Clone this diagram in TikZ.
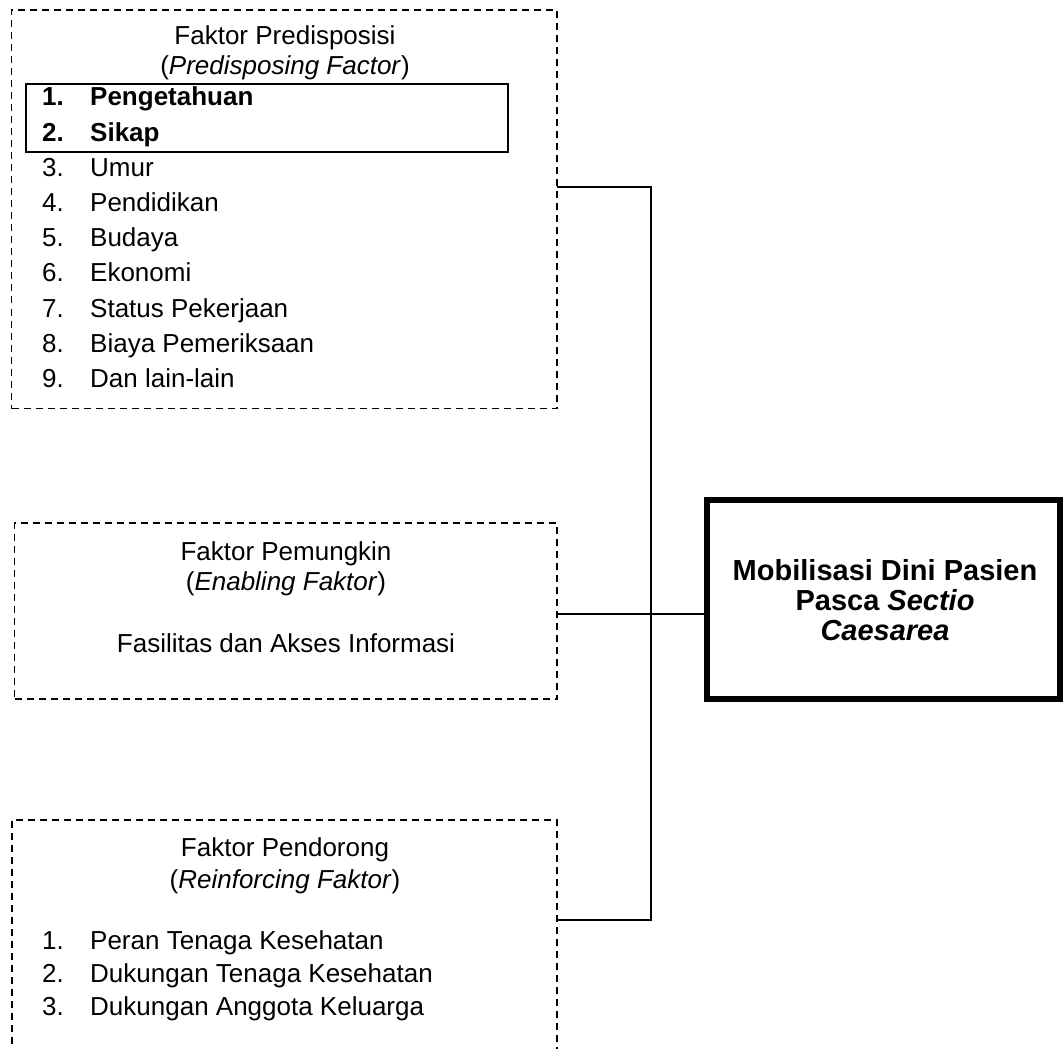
\documentclass[tikz,border=0pt]{standalone}
\usepackage{fontspec}
\setmainfont{Liberation Sans}
\begin{document}
\begin{tikzpicture}[x=1pt,y=-1pt,
  dbox/.style={draw, dash pattern=on 7pt off 5pt, line width=1.4pt},
  ibox/.style={draw, line width=1.8pt},
  mbox/.style={draw, line width=6pt},
  conn/.style={line width=1.7pt},
  area/.style={inner sep=0pt, outer sep=0pt, anchor=north west},
  txt/.style={font=\fontsize{26}{30}\selectfont, inner sep=0pt, anchor=base},
  num/.style={font=\fontsize{26}{30}\selectfont, inner sep=0pt, anchor=base west},
  btxt/.style={font=\fontsize{29}{30}\bfseries\selectfont, inner sep=0pt, anchor=base}
]
\path[use as bounding box] (0,0) rectangle (1064,1048);
\clip (0,0) rectangle (1064,1048);

% ---- Box 1: Faktor Predisposisi
\node[area, dbox, minimum width=545.5pt, minimum height=398.5pt] (pre) at (11.5,10) {};
\node[area, ibox, minimum width=482pt, minimum height=68pt] (kn) at (26,84) {};
\node[txt] (pret) at (285,45) {Faktor Predisposisi};
\node[txt] (pres) at (285,75) {(\textit{Predisposing Factor})};
\node[num] (n1) at (42,106) {\bfseries 1.};
\node[num] (i1) at (90,106) {\bfseries Pengetahuan};
\node[num] (n2) at (42,141.2) {\bfseries 2.};
\node[num] (i2) at (90,141.2) {\bfseries Sikap};
\node[num] (n3) at (42,176.4) {3.};
\node[num] (i3) at (90,176.4) {Umur};
\node[num] (n4) at (42,211.6) {4.};
\node[num] (i4) at (90,211.6) {Pendidikan};
\node[num] (n5) at (42,246.8) {5.};
\node[num] (i5) at (90,246.8) {Budaya};
\node[num] (n6) at (42,282) {6.};
\node[num] (i6) at (90,282) {Ekonomi};
\node[num] (n7) at (42,317.2) {7.};
\node[num] (i7) at (90,317.2) {Status Pekerjaan};
\node[num] (n8) at (42,352.4) {8.};
\node[num] (i8) at (90,352.4) {Biaya Pemeriksaan};
\node[num] (n9) at (42,387.6) {9.};
\node[num] (i9) at (90,387.6) {Dan lain-lain};

% ---- Box 2: Faktor Pemungkin
\node[area, dbox, minimum width=542.5pt, minimum height=176pt] (ena) at (14.5,523) {};
\node[txt] (enat) at (286,560) {Faktor Pemungkin};
\node[txt] (enas) at (286,590) {(\textit{Enabling Faktor})};
\node[txt] (enai) at (286,652) {Fasilitas dan Akses Informasi};

% ---- Box 3: Faktor Pendorong (open at bottom)
\node[area, minimum width=545pt, minimum height=260pt] (rei) at (12,820) {};
\draw[dbox] (rei.south west) |- (rei.north east) -- (rei.south east);
\node[txt] (reit) at (285,856) {Faktor Pendorong};
\node[txt] (reis) at (285,888) {(\textit{Reinforcing Faktor})};
\node[num] (r1n) at (42,949) {1.};
\node[num] (r1) at (90,949) {Peran Tenaga Kesehatan};
\node[num] (r2n) at (42,982) {2.};
\node[num] (r2) at (90,982) {Dukungan Tenaga Kesehatan};
\node[num] (r3n) at (42,1015) {3.};
\node[num] (r3) at (90,1015) {Dukungan Anggota Keluarga};

% ---- Main box
\node[area, mbox, minimum width=353pt, minimum height=199pt, outer sep=0pt] (mob) at (707,500) {};
\node[btxt] (m1) at (885,580) {Mobilisasi Dini Pasien};
\node[btxt] (m2) at (885,610) {Pasca \textit{Sectio}};
\node[btxt] (m3) at (885,640) {\textit{Caesarea}};

% ---- Connectors
\coordinate (ya) at (0,187);
\coordinate (yb) at (0,614);
\coordinate (yc) at (0,920);
\coordinate (bus) at (651,187);
\draw[conn] (pre.east |- ya) -- (bus) -- (bus |- yc) -- (rei.east |- yc);
\draw[conn] (ena.east |- yb) -- (mob.west |- yb);
\end{tikzpicture}
\end{document}
